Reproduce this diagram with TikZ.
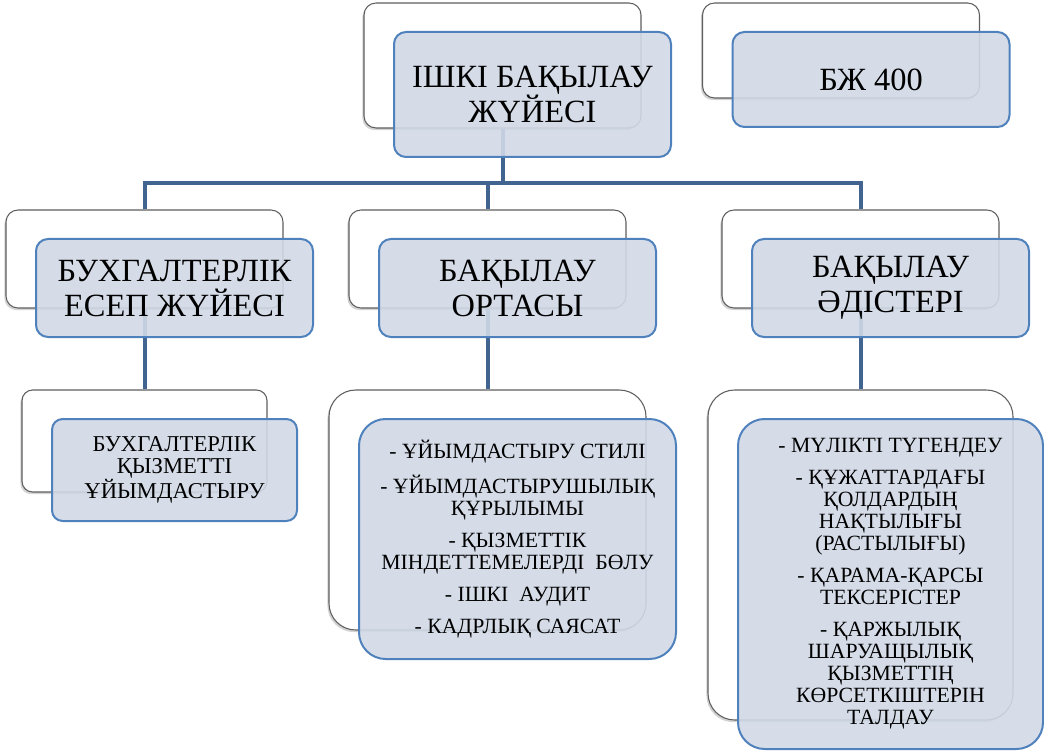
\documentclass[tikz,border=0pt]{standalone}
\usepackage{fontspec}
\setmainfont{Liberation Serif}
\usetikzlibrary{shadows}
\definecolor{boxfill}{RGB}{209,217,230}
\definecolor{boxline}{RGB}{79,129,189}
\definecolor{linkcol}{RGB}{65,100,145}
\definecolor{backline}{RGB}{95,95,95}
\begin{document}
\begin{tikzpicture}[x=0.75pt,y=-0.75pt,line cap=round,
  size/.style 2 args={minimum width=#1*0.75pt,minimum height=#2*0.75pt},
  back/.style={draw=backline,line width=0.8pt,fill=white,inner sep=0pt,
    drop shadow={shadow xshift=-1.2pt,shadow yshift=-1.6pt,opacity=0.35}},
  front/.style={draw=boxline,line width=1.5pt,fill=boxfill,fill opacity=0.9,
    text opacity=1,inner sep=0pt,align=center},
  bigtext/.style={font=\fontsize{24.3}{26.3}\selectfont},
  smalltext/.style={font=\fontsize{16.3}{16.5}\selectfont},
  link/.style={draw=linkcol,line width=3pt,line cap=butt}]
\useasboundingbox (0,0) rectangle (1044,755);
\node[back,size={277}{125},rounded corners=9pt] (root-b) at (502.5,65.5) {};
\node[back,size={277}{95},rounded corners=9pt] (isa-b) at (841,50.5) {};
\node[back,size={277}{98},rounded corners=9pt] (acc-b) at (144.5,259) {};
\node[back,size={277}{98},rounded corners=9pt] (env-b) at (487.5,259) {};
\node[back,size={277}{98},rounded corners=9pt] (meth-b) at (860.5,259) {};
\node[back,size={245}{102},rounded corners=8pt] (org-b) at (144.5,441) {};
\node[back,size={317}{240},rounded corners=20pt] (ctl-b) at (487.5,510) {};
\node[back,size={305}{330},rounded corners=20pt] (tool-b) at (860.5,555) {};
\coordinate (bus) at (0,183);
\draw[link] (root-b.south) -- (root-b.south |- bus);
\draw[link] (acc-b.north) -- (acc-b.north |- bus) -- (meth-b.north |- bus) -- (meth-b.north);
\draw[link] (env-b.north |- bus) -- (env-b.north);
\draw[link] (acc-b.south) -- (org-b.north);
\draw[link] (env-b.south) -- (ctl-b.north);
\draw[link] (meth-b.south) -- (tool-b.north);
\node[front,bigtext,size={277}{125},rounded corners=9pt] (root) at ([shift={(30,29)}]root-b) {ІШКІ БАҚЫЛАУ\\ЖҮЙЕСІ};
\node[front,bigtext,size={277}{95},rounded corners=9pt] (isa) at ([shift={(30,29)}]isa-b) {БЖ 400};
\node[front,bigtext,size={277}{98},rounded corners=9pt] (acc) at ([shift={(30,29)}]acc-b) {БУХГАЛТЕРЛІК\\ЕСЕП ЖҮЙЕСІ};
\node[front,bigtext,size={277}{98},rounded corners=9pt] (env) at ([shift={(30,29)}]env-b) {БАҚЫЛАУ\\ОРТАСЫ};
\node[front,bigtext,size={277}{98},rounded corners=9pt] (meth) at ([shift={(30,29)}]meth-b) {БАҚЫЛАУ\\ӘДІСТЕРІ};
\node[front,smalltext,font=\fontsize{17}{16.5}\selectfont,size={245}{102},rounded corners=8pt] (org) at ([shift={(30,29)}]org-b) {БУХГАЛТЕРЛІК\\ҚЫЗМЕТТІ\\ҰЙЫМДАСТЫРУ};
\node[front,smalltext,size={317}{240},rounded corners=20pt] (ctl) at ([shift={(30,29)}]ctl-b)
  {- ҰЙЫМДАСТЫРУ СТИЛІ\\[7.5pt]- ҰЙЫМДАСТЫРУШЫЛЫҚ\\ҚҰРЫЛЫМЫ\\[7.5pt]- ҚЫЗМЕТТІК\\МІНДЕТТЕМЕЛЕРДІ~ БӨЛУ\\[7.5pt]- ІШКІ~ АУДИТ\\[7.5pt]- КАДРЛЫҚ САЯСАТ};
\node[front,smalltext,size={305}{330},rounded corners=20pt] (tool) at ([shift={(30,29)}]tool-b)
  {- МҮЛІКТІ ТҮГЕНДЕУ\\[7.5pt]- ҚҰЖАТТАРДАҒЫ\\ҚОЛДАРДЫҢ\\НАҚТЫЛЫҒЫ\\(РАСТЫЛЫҒЫ)\\[7.5pt]- ҚАРАМА-ҚАРСЫ\\ТЕКСЕРІСТЕР\\[7.5pt]- ҚАРЖЫЛЫҚ\\ШАРУАЩЫЛЫҚ\\ҚЫЗМЕТТІҢ\\КӨРСЕТКІШТЕРІН\\ТАЛДАУ};
\end{tikzpicture}
\end{document}
